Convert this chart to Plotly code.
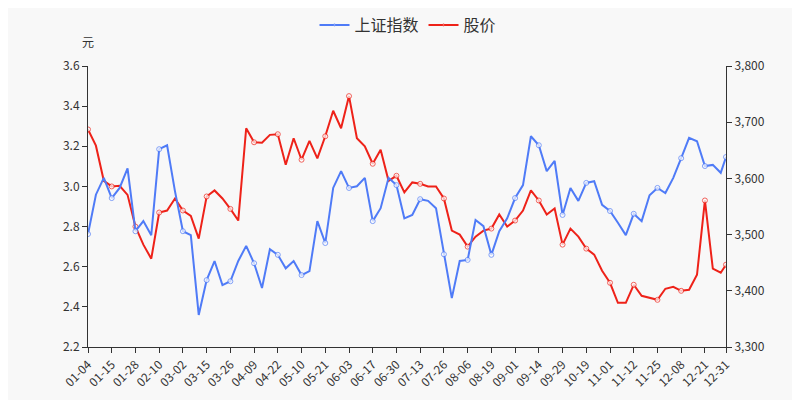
import pandas as pd
import plotly.graph_objects as go

days = pd.bdate_range("2021-01-01", "2021-12-31")
holidays = pd.to_datetime(["2021-01-01","2021-02-11","2021-02-12","2021-02-15","2021-02-16","2021-02-17",
    "2021-04-05","2021-05-03","2021-05-04","2021-05-05","2021-06-14","2021-09-20","2021-09-21",
    "2021-10-01","2021-10-04","2021-10-05","2021-10-06","2021-10-07"])
dates = [d.strftime("%m-%d") for d in days if d not in holidays]

idx = list(range(0, 241, 3)) + [242]

price = [3.284,3.203,3.028,3.0,3.003,2.958,2.80,2.71,2.64,2.87,2.88,2.94,2.88,2.853,2.74,2.95,2.98,2.94,2.888,2.83,
         3.29,3.22,3.218,3.257,3.26,3.108,3.24,3.133,3.227,3.14,3.25,3.377,3.29,3.45,3.24,3.20,3.113,3.183,3.028,3.053,
         2.97,3.02,3.013,3.00,3.00,2.94,2.78,2.76,2.70,2.75,2.78,2.79,2.86,2.80,2.83,2.88,2.98,2.93,2.86,2.89,
         2.71,2.79,2.75,2.69,2.66,2.58,2.52,2.42,2.42,2.51,2.455,2.445,2.435,2.49,2.50,2.48,2.485,2.56,2.93,2.59,
         2.57,2.61]
index_sh = [3501,3571,3601,3565,3583,3618,3506,3524,3499,3652,3659,3577,3506,3499,3357,3419,3453,3410,3417,3453,
            3480,3449,3405,3474,3464,3440,3453,3428,3435,3524,3485,3583,3613,3583,3586,3601,3524,3547,3601,3588,
            3529,3535,3563,3560,3547,3465,3387,3453,3455,3526,3515,3464,3506,3529,3565,3588,3675,3659,3613,3631,
            3535,3583,3560,3592,3595,3553,3542,3521,3499,3537,3524,3570,3583,3574,3601,3636,3672,3666,3622,3624,
            3610,3638]

tickvals = list(range(0, 243, 9)) + [242]
ticktext = [dates[i] for i in tickvals]
msize = [5 if (i % 9 == 0 or i == 242) else 0 for i in idx]

fig = go.Figure()
fig.add_trace(go.Scatter(x=idx, y=index_sh, name="上证指数", yaxis="y2", mode="lines+markers",
    line=dict(color="#4F7BF7", width=2), marker=dict(size=msize, color="white", line=dict(color="#4F7BF7", width=1))))
fig.add_trace(go.Scatter(x=idx, y=price, name="股价", mode="lines+markers",
    line=dict(color="#EE2219", width=2), marker=dict(size=msize, color="white", line=dict(color="#EE2219", width=1))))

fig.update_layout(
    width=800, height=400, paper_bgcolor="#f8f8f8", plot_bgcolor="#f8f8f8",
    margin=dict(l=80, r=82, t=58, b=61, autoexpand=False),
    font=dict(family="Noto Sans CJK SC", size=12, color="#333"),
    legend=dict(orientation="h", x=0.5, xanchor="center", xref="container", y=1.0, yref="container",
                yanchor="top", font=dict(size=16), itemwidth=30),
    xaxis=dict(tickvals=tickvals, ticktext=ticktext, tickangle=-45, range=[0, 242], showgrid=False, zeroline=False,
               showline=True, linecolor="#333", ticks="outside", ticklen=5, tickcolor="#333"),
    yaxis=dict(range=[2.2, 3.6], dtick=0.2, showgrid=False, zeroline=False, showline=True, linecolor="#333",
               ticks="outside", ticklen=5, tickcolor="#333", tickformat=".1f"),
    yaxis2=dict(range=[3300, 3800], dtick=100, overlaying="y", side="right", showgrid=False, zeroline=False,
                showline=True, linecolor="#333", ticks="outside", ticklen=5, tickcolor="#333", tickformat=",d"),
    annotations=[dict(text="元", xref="paper", yref="paper", x=0, y=1.05, xanchor="center", yanchor="bottom",
                      showarrow=False, font=dict(size=12))],
)
fig.write_html("out.html")
